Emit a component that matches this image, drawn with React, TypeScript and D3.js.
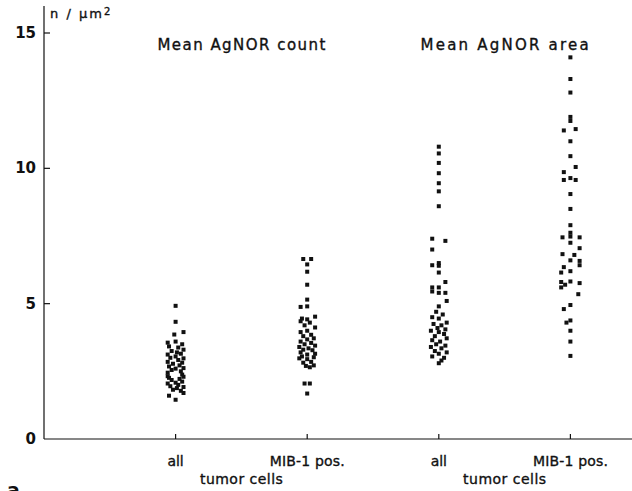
import React from 'react';
import * as d3 from 'd3';

// group positions on the x axis (category index)
const groups = ['all', 'MIB-1 pos.', 'all', 'MIB-1 pos.'];
const panelTitles = ['Mean AgNOR count', 'Mean AgNOR area'];
const yTicks = [0, 5, 10, 15];

// [jitter in category units, value]
const countAll = [
  [0, 4.92], [0, 4.33], [-0.01, 3.86], [0.06, 3.95], [-0.06, 3.56], [0, 3.6], [0.05, 3.5], [-0.05, 3.42],
  [0.02, 3.38], [0.06, 3.3], [-0.03, 3.25], [0.01, 3.2], [-0.06, 3.12], [0.04, 3.15], [0, 3.05], [-0.04, 3.0],
  [0.06, 2.98], [0.02, 2.92], [-0.06, 2.85], [0.05, 2.82], [-0.02, 2.78], [0.03, 2.72], [-0.05, 2.68],
  [0.06, 2.62], [0, 2.6], [-0.03, 2.55], [0.04, 2.5], [-0.06, 2.45], [0.05, 2.38], [-0.06, 2.32], [0.06, 2.3],
  [-0.05, 2.26], [0.03, 2.22], [-0.03, 2.18], [0.05, 2.12], [0, 2.08], [-0.06, 2.05], [0.02, 2.0],
  [-0.04, 1.95], [0.06, 1.92], [0.01, 1.88], [-0.02, 1.82], [0.04, 1.78], [-0.05, 1.6], [0.06, 1.7], [0, 1.45],
];
const countMib = [
  [-0.03, 6.65], [0.03, 6.65], [0, 6.45], [0, 6.18], [0, 5.7], [0, 5.15], [-0.05, 4.88], [0, 4.9],
  [0.06, 4.52], [-0.04, 4.45], [0, 4.42], [0.06, 4.12], [-0.05, 4.35], [0.02, 4.3], [-0.02, 4.2], [0, 4.0],
  [-0.05, 3.95], [0.03, 3.85], [-0.03, 3.8], [0.05, 3.72], [0, 3.68], [-0.05, 3.6], [0.03, 3.55], [-0.02, 3.5],
  [0.06, 3.45], [-0.06, 3.4], [0.01, 3.35], [-0.03, 3.3], [0.04, 3.28], [-0.05, 3.2], [0.06, 3.15], [0, 3.12],
  [-0.04, 3.05], [0.05, 3.02], [-0.06, 2.98], [0, 2.95], [0.03, 2.85], [-0.03, 2.82], [0.05, 2.72],
  [-0.01, 2.7], [0.02, 2.65], [-0.02, 2.05], [0.02, 2.05], [0, 1.68],
];
const areaAll = [
  [0, 10.8], [0, 10.55], [0, 10.2], [0, 9.82], [0, 9.45], [0, 9.15], [0, 8.6], [-0.05, 7.4], [0.05, 7.32],
  [-0.05, 7.0], [0, 6.5], [-0.05, 6.42], [0, 6.4], [0, 6.15], [-0.05, 5.6], [0, 5.6], [0.05, 5.8], [-0.05, 5.45],
  [0.05, 5.4], [0, 5.4], [0.06, 5.1], [0, 4.9], [-0.02, 4.7], [0.03, 4.6], [-0.05, 4.5], [0, 4.45], [0.06, 4.3],
  [-0.04, 4.25], [0.02, 4.2], [-0.01, 4.1], [0.05, 4.05], [-0.06, 4.0], [0, 3.95], [0.04, 3.88], [-0.03, 3.8],
  [0.06, 3.72], [-0.05, 3.65], [0.01, 3.6], [-0.02, 3.5], [0.05, 3.45], [-0.06, 3.4], [0.02, 3.35],
  [-0.03, 3.25], [0.06, 3.2], [0, 3.15], [-0.05, 3.05], [0.04, 3.0], [0.02, 2.9], [0, 2.8],
];
const areaMib = [
  [0, 14.1], [0, 13.3], [0, 12.8], [0, 11.9], [0, 11.75], [-0.05, 11.4], [0.04, 11.45], [0, 11.0], [0, 10.45],
  [-0.05, 9.86], [0.04, 10.05], [-0.05, 9.57], [0, 9.64], [0.04, 9.57], [0, 9.05], [0, 8.5], [0, 7.9], [0, 7.62],
  [-0.06, 7.45], [0, 7.48], [0.07, 7.45], [0, 7.25], [0.07, 7.05], [-0.06, 6.83], [0.03, 6.8], [0, 6.6],
  [0.07, 6.58], [-0.05, 6.35], [0.07, 6.42], [-0.07, 6.15], [0, 6.2], [-0.07, 5.8], [0, 5.82], [0.07, 5.76],
  [-0.07, 5.6], [-0.04, 5.7], [0.06, 5.35], [0, 4.95], [-0.05, 4.8], [-0.03, 4.3], [0, 4.38], [0, 4.0],
  [0, 3.6], [0, 3.07],
];
const seriesList = [countAll, countMib, areaAll, areaMib];

const W = 632;
const H = 491;
const x0 = 44;
const axisY = 439;

const App = () => {
  const x = d3.scaleLinear().domain([0, 1]).range([x0, x0 + 131.6]);
  const y = d3.scaleLinear().domain([0, 15]).range([axisY, 33]);
  const font = '"DejaVu Sans", "Liberation Sans", Arial, sans-serif';
  const ink = '#111';
  // thicken the type a little, like the scanned print
  const txt = { stroke: ink, strokeWidth: 0.35 };

  return (
    <svg width={W} height={H} style={{ position: 'absolute', left: 0, top: 0, background: '#fff' }}
      fontFamily={font} fill={ink}>
      {/* y axis */}
      <line x1={x0} x2={x0} y1={6} y2={axisY} stroke={ink} strokeWidth={1.2} />
      {yTicks.map((t) => (
        <g key={t}>
          {t > 0 && <line x1={x0} x2={x0 + 6} y1={y(t)} y2={y(t)} stroke={ink} strokeWidth={1.2} />}
          <text x={36} y={y(t) + 5} textAnchor="end" fontSize={15} fontWeight="bold">{t}</text>
        </g>
      ))}
      <text x={50} y={18} fontSize={13} {...txt} textLength={52} lengthAdjust="spacing">n / µm</text>
      <text x={104} y={15} fontSize={10} {...txt}>2</text>

      {/* x axis */}
      <line x1={x0} x2={W} y1={axisY} y2={axisY} stroke={ink} strokeWidth={1.2} />
      {groups.map((g, i) => (
        <g key={i}>
          <line x1={x(i + 1)} x2={x(i + 1)} y1={axisY} y2={axisY - 5} stroke={ink} strokeWidth={1.2} />
          <text x={x(i + 1)} y={466} textAnchor="middle" fontSize={14} {...txt}
            textLength={g === 'all' ? 16 : 75} lengthAdjust="spacing">{g}</text>
        </g>
      ))}
      {[0, 1].map((p) => (
        <text key={p} x={x(2 * p + 1.5)} y={484} textAnchor="middle" fontSize={14} {...txt}
          textLength={83} lengthAdjust="spacing">tumor cells</text>
      ))}

      {/* panel titles */}
      {panelTitles.map((t, p) => (
        <text key={t} x={x(2 * p + 1.5)} y={50} textAnchor="middle" fontSize={15} {...txt}
          textLength={168} lengthAdjust="spacing">{t}</text>
      ))}

      {/* points */}
      {seriesList.map((s, i) => (
        <g key={i}>
          {s.map(([dx, v], j) => (
            <rect key={j} x={x(i + 1 + dx) - 2} y={y(v) - 2} width={4} height={4} fill={ink} />
          ))}
        </g>
      ))}

      <text x={7} y={497} fontSize={19} fontWeight="bold">a</text>
    </svg>
  );
};

export default App;
